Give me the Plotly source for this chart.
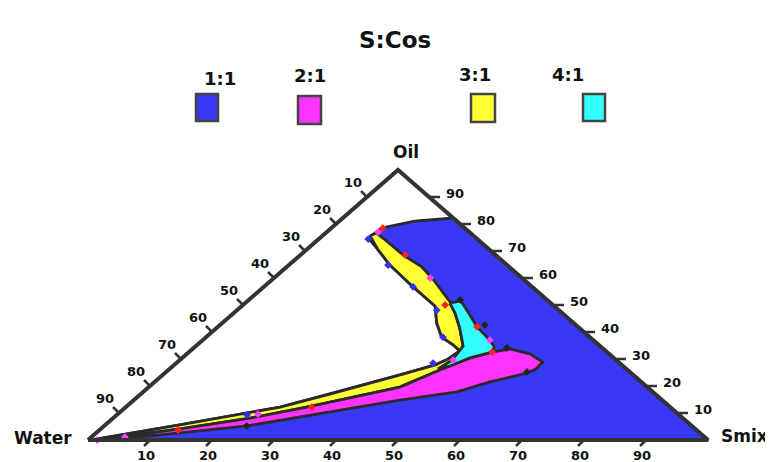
import plotly.graph_objects as go

# ---------------- data: ternary compositions in % (Water = 100 - Oil - Smix) ----------------
series_names = ["1:1", "2:1", "3:1", "4:1"]
series_colors = ["#3838F5", "#FF33FF", "#FFFF33", "#33FFFF"]

blue_oil = [0, 0, 82.2, 81.1, 78.5, 74.8, 70.4, 64.8, 56.7, 49.6, 43.3, 38.1, 35.2, 33.0,
            30.0, 27.8, 24.1, 17.0, 12.2, 5.6, 0]
blue_smix = [0.5, 100, 17.8, 12.1, 8.1, 7.8, 11.6, 16.3, 24.1, 31.2, 34.6, 38.0, 41.3, 43.5,
             43.1, 42.1, 38.3, 30.5, 24.9, 12.0, 0.8]

yellow_oil = [75.6, 70.4, 64.8, 56.7, 49.6, 43.3, 38.1, 35.2, 33.0, 30.0, 27.8, 24.1, 17.0,
              12.2, 5.6, 0, 1.1, 4.1, 8.1, 12.2, 19.6, 25.9, 28.9, 34.8, 41.5, 47.0, 50.7,
              54.4, 60.0, 64.1, 68.5, 74.1, 76.7]
yellow_smix = [7.7, 11.6, 16.3, 24.1, 31.2, 34.6, 38.0, 41.3, 43.5, 43.1, 42.1, 38.3, 30.5,
               24.9, 12.0, 0.8, 4.6, 12.8, 22.1, 29.2, 40.5, 43.8, 44.7, 43.1, 39.2, 35.7, 33.2,
               30.1, 25.5, 21.8, 16.6, 10.9, 8.1]

magenta_oil = [0, 1.1, 4.1, 8.1, 12.2, 19.6, 25.9, 27.4, 30.4, 32.6, 33.7, 31.9, 28.9, 26.3,
               24.8, 21.5, 17.8, 14.8, 10.4, 5.2, 2.6, 0.7]
magenta_smix = [0.8, 4.6, 12.8, 22.1, 29.2, 40.5, 43.8, 44.7, 46.4, 49.0, 51.2, 55.3, 58.9,
                59.1, 58.4, 54.1, 50.6, 42.9, 33.8, 23.0, 13.5, 5.9]

cyan_oil = [50.7, 51.5, 47.4, 41.9, 38.1, 34.8, 32.6, 30.4, 27.4, 26.3, 29.6, 34.8, 41.5, 47.0]
cyan_smix = [33.0, 34.4, 37.6, 41.8, 45.3, 48.1, 49.0, 46.4, 44.7, 43.3, 43.9, 43.1, 39.2, 35.7]

# measured points (markers)
red_pts_oil = [78.5, 68.5, 50.0, 41.9, 32.6, 3.7, 12.2]
red_pts_smix = [8.3, 16.9, 32.6, 41.8, 48.9, 12.7, 30.0]
pink_pts_oil = [77.0, 60.0, 37.0, 29.6, 0, 1.1, 9.6]
pink_pts_smix = [8.3, 25.2, 46.3, 44.1, 1.5, 5.4, 22.6]
blue_pts_oil = [74.4, 64.8, 56.7, 48.1, 38.1, 28.5, 9.3]
blue_pts_smix = [8.0, 16.0, 24.1, 32.2, 38.2, 41.4, 21.0]
black_pts_oil = [51.9, 42.6, 34.1, 25.2, 5.2]
black_pts_smix = [34.1, 42.7, 50.5, 58.2, 23.0]

tick_values = [10, 20, 30, 40, 50, 60, 70, 80, 90]
vertex_names = ["Water", "Smix", "Oil"]
title_text = "S:Cos"

# ---------------- projection ----------------
OFF = 8                         # page body margin
W, H = 773 - OFF, 462 - OFF     # figure size that fits the window
PX, PY = 620.0, 270.0           # pixels per unit along x / y
X0, Y0 = 88.0 - OFF, 440.0 - OFF  # figure pixel of the Water vertex


def proj(oil, smix):
    xs = [(s + o / 2.0) / 100.0 for o, s in zip(oil, smix)]
    ys = [o / 100.0 for o in oil]
    return xs, ys


def dpx(dx, dy):
    """pixel offset -> data offset"""
    return dx / PX, -dy / PY


EDGE = "#333333"
FONT = "DejaVu Sans, Arial, sans-serif"

fig = go.Figure()

regions = [
    (blue_oil, blue_smix, series_colors[0]),
    (yellow_oil, yellow_smix, series_colors[2]),
    (magenta_oil, magenta_smix, series_colors[1]),
    (cyan_oil, cyan_smix, series_colors[3]),
]
for o, s, c in regions:
    x, y = proj(o + o[:1], s + s[:1])
    fig.add_trace(go.Scatter(x=x, y=y, mode="lines", fill="toself", fillcolor=c,
                             line=dict(color="#2a2a2a", width=2.8), hoverinfo="skip",
                             showlegend=False))

for o, s, c in [(red_pts_oil, red_pts_smix, "#FF2020"), (pink_pts_oil, pink_pts_smix, "#FF40FF"),
                (blue_pts_oil, blue_pts_smix, "#3030FF"), (black_pts_oil, black_pts_smix, "#222222")]:
    x, y = proj(o, s)
    fig.add_trace(go.Scatter(x=x, y=y, mode="markers",
                             marker=dict(symbol="diamond", size=6, color=c),
                             hoverinfo="skip", showlegend=False))

fx, fy = proj([0, 0, 100, 0], [0, 100, 0, 0])
fig.add_trace(go.Scatter(x=fx, y=fy, mode="lines", line=dict(color=EDGE, width=4),
                         hoverinfo="skip", showlegend=False))

shapes = []
annotations = []
tfont = dict(family=FONT, size=13, color="#111111")
for v in tick_values:
    bx, by = proj([0], [v])
    ddx, ddy = dpx(-6, 6)
    shapes.append(dict(type="line", x0=bx[0], y0=by[0], x1=bx[0] + ddx, y1=by[0] + ddy,
                       line=dict(color=EDGE, width=2.5)))
    annotations.append(dict(x=bx[0], y=by[0], text="<b>%d</b>" % v, showarrow=False,
                            xshift=-4, yshift=-15, font=tfont))
    lx, ly = proj([100 - v], [0])
    ddx, ddy = dpx(-6, -6)
    shapes.append(dict(type="line", x0=lx[0], y0=ly[0], x1=lx[0] + ddx, y1=ly[0] + ddy,
                       line=dict(color=EDGE, width=2.5)))
    annotations.append(dict(x=lx[0], y=ly[0], text="<b>%d</b>" % v, showarrow=False,
                            xshift=-14, yshift=15, font=tfont))
    rx, ry = proj([v], [100 - v])
    ddx, ddy = dpx(11, 0)
    shapes.append(dict(type="line", x0=rx[0], y0=ry[0], x1=rx[0] + ddx, y1=ry[0] + ddy,
                       line=dict(color=EDGE, width=2.5)))
    annotations.append(dict(x=rx[0], y=ry[0], text="<b>%d</b>" % v, showarrow=False,
                            xshift=26, yshift=4, font=tfont))

vfont = dict(family=FONT, size=17, color="#111111")
wx, wy = proj([0], [0])
annotations.append(dict(x=wx[0], y=wy[0], text="<b>%s</b>" % vertex_names[0], showarrow=False,
                        xshift=-45, yshift=2, font=vfont))
sx, sy = proj([0], [100])
annotations.append(dict(x=sx[0], y=sy[0], text="<b>%s</b>" % vertex_names[1], showarrow=False,
                        xshift=36, yshift=4, font=vfont))
ox, oy = proj([100], [0])
annotations.append(dict(x=ox[0], y=oy[0], text="<b>%s</b>" % vertex_names[2], showarrow=False,
                        xshift=8, yshift=18, font=vfont))


def pp(px, py):
    return (px - OFF) / W, 1 - (py - OFF) / H


tx, ty = pp(395, 25)
annotations.append(dict(x=tx, y=ty, xref="paper", yref="paper", text="<b>%s</b>" % title_text,
                        showarrow=False, font=dict(family=FONT, size=23, color="#111111")))

legend_label_pos = [(202, 66), (310, 63), (475, 62), (586, 62)]
legend_box_pos = [(196, 94, 218, 121), (298, 96, 321, 124), (471, 94, 495, 122), (583, 94, 605, 121)]
for name, col, (lxp, lyp), (x0p, y0p, x1p, y1p) in zip(series_names, series_colors,
                                                      legend_label_pos, legend_box_pos):
    ax_, ay_ = pp(lxp, lyp)
    annotations.append(dict(x=ax_, y=ay_, xref="paper", yref="paper", text="<b>%s</b>" % name,
                            showarrow=False, font=dict(family=FONT, size=18, color="#111111")))
    a0, b1 = pp(x0p, y0p)
    a1, b0 = pp(x1p, y1p)
    shapes.append(dict(type="rect", xref="paper", yref="paper", x0=a0, x1=a1, y0=b0, y1=b1,
                       fillcolor=col, line=dict(color="#444444", width=2.5)))

fig.update_layout(
    width=W, height=H,
    margin=dict(l=0, r=0, t=0, b=0),
    paper_bgcolor="white", plot_bgcolor="white",
    showlegend=False,
    xaxis=dict(range=[-X0 / PX, (W - X0) / PX], visible=False, fixedrange=True),
    yaxis=dict(range=[(Y0 - H) / PY, Y0 / PY], visible=False, fixedrange=True),
    shapes=shapes,
    annotations=annotations,
)

fig.write_html("out.html")
